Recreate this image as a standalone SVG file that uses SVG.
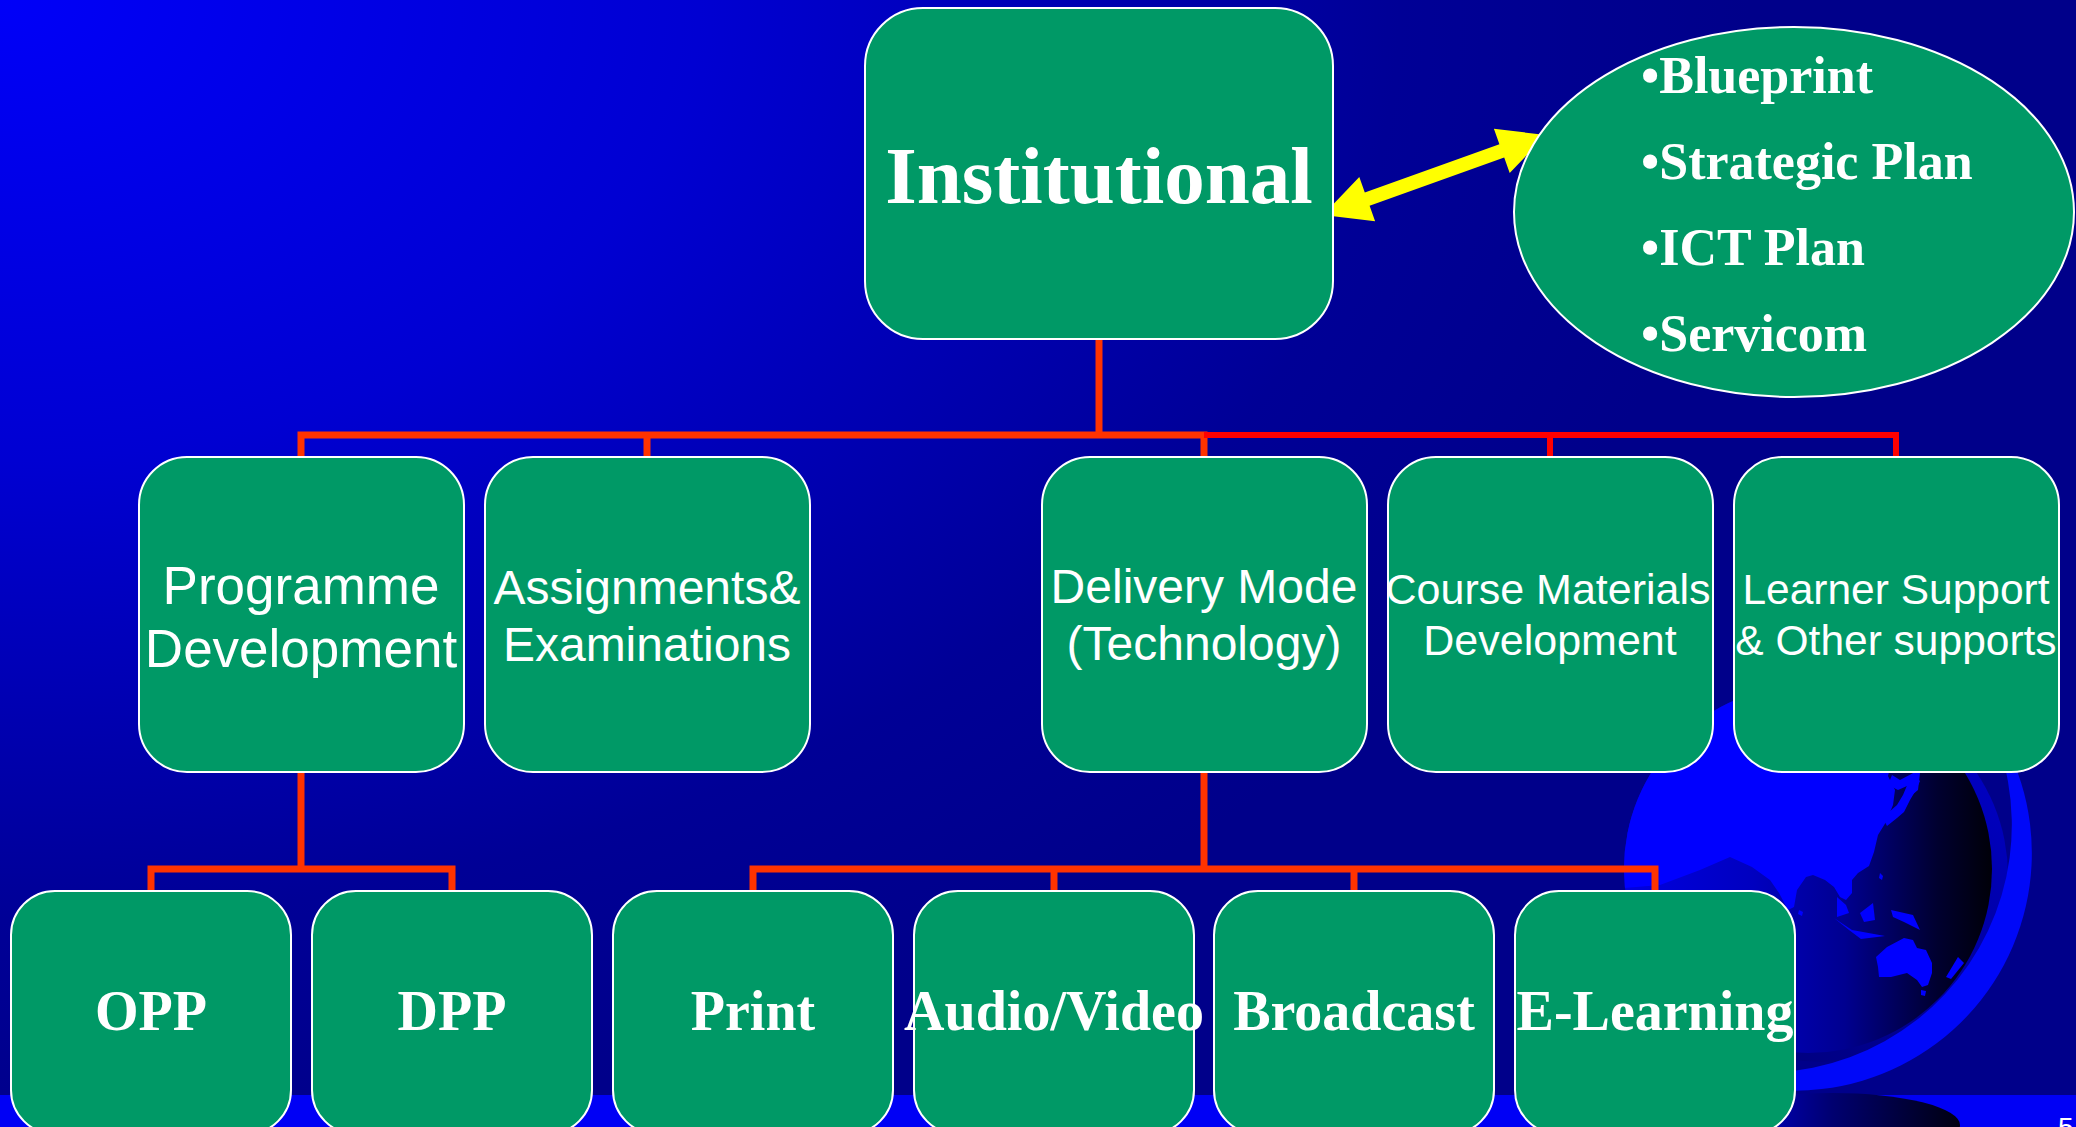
<svg xmlns="http://www.w3.org/2000/svg" width="2076" height="1127" viewBox="0 0 2076 1127">
  <defs>
    <radialGradient id="bg" gradientUnits="userSpaceOnUse" cx="0" cy="0" r="1" gradientTransform="scale(1750 1150)">
      <stop offset="0" stop-color="#0000F8"/>
      <stop offset="0.4" stop-color="#0000D2"/>
      <stop offset="0.8" stop-color="#000096"/>
      <stop offset="1" stop-color="#00008A"/>
    </radialGradient>
    <linearGradient id="ocean" gradientUnits="userSpaceOnUse" x1="1624" y1="0" x2="1992" y2="0">
      <stop offset="0" stop-color="#0000E0"/>
      <stop offset="0.35" stop-color="#0000C0"/>
      <stop offset="0.6" stop-color="#000090"/>
      <stop offset="0.85" stop-color="#000030"/>
      <stop offset="1" stop-color="#000008"/>
    </linearGradient>
    <linearGradient id="band" gradientUnits="userSpaceOnUse" x1="2000" y1="760" x2="1800" y2="1062">
      <stop offset="0" stop-color="#0000C4"/>
      <stop offset="1" stop-color="#000082"/>
    </linearGradient>
    <linearGradient id="base" gradientUnits="userSpaceOnUse" x1="1705" y1="0" x2="1960" y2="0">
      <stop offset="0" stop-color="#0000F0"/>
      <stop offset="0.5" stop-color="#000070"/>
      <stop offset="1" stop-color="#000010"/>
    </linearGradient>
    <clipPath id="sphereClip">
      <circle cx="1808" cy="869" r="184"/>
    </clipPath>
  </defs>
  <style>
    .box { fill: #009966; stroke: #FFFFFF; stroke-width: 2; }
    .sans { font-family: "Liberation Sans", Arial, sans-serif; fill: #FFFFFF; text-anchor: middle; }
    .serif { font-family: "Liberation Serif", "Times New Roman", serif; font-weight: bold; fill: #FFFFFF; }
    .mid { text-anchor: middle; }
    .orange { fill: none; stroke: #FF3300; stroke-width: 7; stroke-linejoin: miter; }
    .red { fill: none; stroke: #FF0000; stroke-width: 6; stroke-linejoin: miter; }
    .land { fill: #0000FF; }
  </style>

  <!-- background -->
  <rect x="0" y="0" width="2076" height="1127" fill="url(#bg)"/>
  <rect x="0" y="1095" width="2076" height="32" fill="#0000F5"/>

  <!-- globe decoration -->
  <g id="globe">
    <circle cx="1822" cy="876" r="186" fill="url(#band)"/>
    <path d="M1983 709 A237.4 237.4 0 0 1 1662.8 1050.8 A247.6 247.6 0 0 0 1983 709 Z" fill="#0008F8"/>
    <circle cx="1808" cy="869" r="184" fill="url(#ocean)"/>
    <g clip-path="url(#sphereClip)">
      <polygon class="land" points="1600,680 1892,680 1892,760 1888,776 1895,790 1893,805 1886,822 1878,835 1874,852 1869,866 1858,873 1852,880 1852,893 1846,900 1840,897 1834,887 1825,880 1813,875 1806,877 1797,890 1794,907 1788,910 1779,893 1770,880 1752,867 1730,857 1700,870 1660,885 1600,890"/>
      <polygon class="land" points="1888,785 1892,775 1900,780 1915,772 1920,773 1918,790 1912,795 1907,786 1898,790"/>
      <polygon class="land" points="1904,812 1910,800 1916,790 1920,781 1915,776 1908,783 1903,795 1897,805 1889,812 1884,820 1887,826 1897,818"/>
      <polygon class="land" points="1880,873 1883,876 1882,880 1879,878"/>
      <polygon class="land" points="1837,897 1846,905 1849,913 1837,917"/>
      <polygon class="land" points="1834,918 1852,930 1885,936 1861,939 1849,930"/>
      <polygon class="land" points="1860,913 1873,903 1875,920 1864,922"/>
      <polygon class="land" points="1891,910 1913,915 1920,930 1904,922 1893,917"/>
      <polygon class="land" points="1799,910 1803,912 1802,916 1798,914"/>
      <polygon class="land" points="1876,957 1887,947 1904,938 1913,940 1917,948 1926,950 1932,963 1932,973 1928,985 1922,987 1917,980 1907,973 1891,977 1879,977 1878,967"/>
      <polygon class="land" points="1921,990 1926,991 1925,996 1921,995"/>
      <polygon class="land" points="1946,977 1958,957 1964,963 1951,979"/>
    </g>
    <ellipse cx="1832" cy="1125" rx="128" ry="32" fill="url(#base)"/>
  </g>

  <!-- connectors -->
  <g id="connectors">
    <path class="orange" d="M1099 339 V435"/>
    <path class="orange" d="M301 457 V435 H1204 V457"/>
    <path class="orange" d="M647 435 V457"/>
    <path class="red" d="M1204 435 H1896 V457"/>
    <path class="red" d="M1550 435 V457"/>
    <path class="orange" d="M301 772 V869"/>
    <path class="orange" d="M151 891 V869 H452 V891"/>
    <path class="orange" d="M1204 772 V869"/>
    <path class="orange" d="M753 891 V869 H1655 V891"/>
    <path class="orange" d="M1054 869 V891"/>
    <path class="orange" d="M1354 869 V891"/>
    <polygon fill="#FFFF00" points="1323,215 1359.3,177 1364.8,192.5 1499.4,144.3 1493.9,128.8 1546,135 1509.7,173 1504.2,157.5 1369.6,205.7 1375.1,221.2"/>
  </g>

  <!-- top -->
  <g id="institutional">
    <rect class="box" x="865" y="8" width="468" height="331" rx="58" ry="58"/>
    <text class="serif mid" x="1099" y="203" font-size="81">Institutional</text>
  </g>
  <g id="plans">
    <ellipse class="box" cx="1794" cy="212" rx="280" ry="185"/>
    <text class="serif" x="1641" y="93" font-size="52">•Blueprint</text>
    <text class="serif" x="1641" y="179" font-size="52">•Strategic Plan</text>
    <text class="serif" x="1641" y="265" font-size="52">•ICT Plan</text>
    <text class="serif" x="1641" y="351" font-size="52">•Servicom</text>
  </g>

  <!-- second level -->
  <g id="programme-development">
    <rect class="box" x="139" y="457" width="325" height="315" rx="48" ry="48"/>
    <text class="sans" x="301" y="604" font-size="53">Programme</text>
    <text class="sans" x="301" y="667" font-size="53">Development</text>
  </g>
  <g id="assignments">
    <rect class="box" x="485" y="457" width="325" height="315" rx="48" ry="48"/>
    <text class="sans" x="647" y="604" font-size="48">Assignments&amp;</text>
    <text class="sans" x="647" y="661" font-size="48">Examinations</text>
  </g>
  <g id="delivery-mode">
    <rect class="box" x="1042" y="457" width="325" height="315" rx="48" ry="48"/>
    <text class="sans" x="1204" y="603" font-size="48">Delivery Mode</text>
    <text class="sans" x="1204" y="660" font-size="48">(Technology)</text>
  </g>
  <g id="course-materials">
    <rect class="box" x="1388" y="457" width="325" height="315" rx="48" ry="48"/>
    <text class="sans" x="1548" y="604" font-size="43">Course Materials</text>
    <text class="sans" x="1550" y="655" font-size="43">Development</text>
  </g>
  <g id="learner-support">
    <rect class="box" x="1734" y="457" width="325" height="315" rx="48" ry="48"/>
    <text class="sans" x="1896" y="604" font-size="42.5">Learner Support</text>
    <text class="sans" x="1896" y="655" font-size="42.5">&amp; Other supports</text>
  </g>

  <!-- third level -->
  <g id="opp">
    <rect class="box" x="11" y="891" width="280" height="243" rx="44" ry="44"/>
    <text class="serif mid" x="151" y="1030" font-size="56">OPP</text>
  </g>
  <g id="dpp">
    <rect class="box" x="312" y="891" width="280" height="243" rx="44" ry="44"/>
    <text class="serif mid" x="452" y="1030" font-size="56">DPP</text>
  </g>
  <g id="print">
    <rect class="box" x="613" y="891" width="280" height="243" rx="44" ry="44"/>
    <text class="serif mid" x="753" y="1030" font-size="56">Print</text>
  </g>
  <g id="audio-video">
    <rect class="box" x="914" y="891" width="280" height="243" rx="44" ry="44"/>
    <text class="serif mid" x="1054" y="1030" font-size="56">Audio/Video</text>
  </g>
  <g id="broadcast">
    <rect class="box" x="1214" y="891" width="280" height="243" rx="44" ry="44"/>
    <text class="serif mid" x="1354" y="1030" font-size="56">Broadcast</text>
  </g>
  <g id="e-learning">
    <rect class="box" x="1515" y="891" width="280" height="243" rx="44" ry="44"/>
    <text class="serif mid" x="1655" y="1030" font-size="56">E-Learning</text>
  </g>

  <text x="2058" y="1137" font-family="Liberation Sans, Arial, sans-serif" font-size="28" fill="#FFFFFF">5</text>
</svg>
